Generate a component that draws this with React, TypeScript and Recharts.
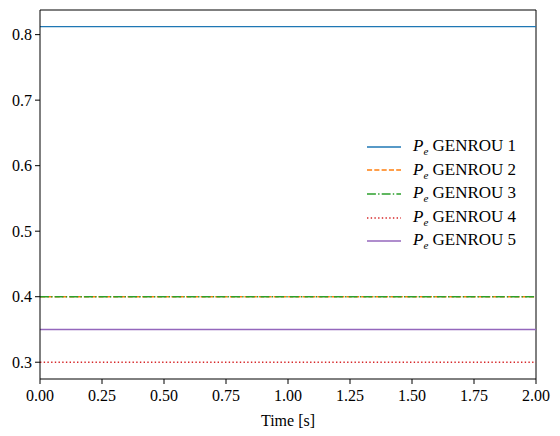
import React from 'react';
import { LineChart, Line, XAxis, YAxis, Legend, ReferenceLine } from 'recharts';

const timeS = [0, 2];
const peGenrou1 = [0.8122, 0.8122];
const peGenrou2 = [0.4, 0.4];
const peGenrou3 = [0.4, 0.4];
const peGenrou4 = [0.3, 0.3];
const peGenrou5 = [0.35, 0.35];
const xTicks = [0, 0.25, 0.5, 0.75, 1.0, 1.25, 1.5, 1.75, 2.0];
const yTicks = [0.3, 0.4, 0.5, 0.6, 0.7, 0.8];
const seriesNames = ['GENROU 1', 'GENROU 2', 'GENROU 3', 'GENROU 4', 'GENROU 5'];
const seriesKeys = ['g1', 'g2', 'g3', 'g4', 'g5'];
const colors = ['#1f77b4', '#ff7f0e', '#2ca02c', '#d62728', '#9467bd'];
const dashes = [undefined, '5.1 2.2', '8.9 2.2 1.4 2.2', '1.4 2.3', undefined];

const data = timeS.map((t, i) => ({
  t,
  g1: peGenrou1[i],
  g2: peGenrou2[i],
  g3: peGenrou3[i],
  g4: peGenrou4[i],
  g5: peGenrou5[i],
}));

const FONT = 'Liberation Serif';
const Y_MIN = 0.2744;
const Y_MAX = 0.8376;

const LegendContent = () => (
  <div style={{ fontFamily: FONT, fontSize: 17, color: '#000' }}>
    {seriesNames.map((n, i) => (
      <div key={n} style={{ height: 23.6, display: 'flex', alignItems: 'center', whiteSpace: 'nowrap' }}>
        <svg width={46} height={10} style={{ display: 'block' }}>
          <line x1={0} x2={34} y1={5} y2={5} stroke={colors[i]} strokeWidth={1.4} strokeDasharray={dashes[i]} />
        </svg>
        <span>
          <i>P</i>
          <sub style={{ fontSize: 11, fontStyle: 'italic' }}>e</sub> {n}
        </span>
      </div>
    ))}
  </div>
);

export default function App() {
  const tickStyle = { fill: '#000', fontSize: 16, fontFamily: FONT };
  return (
    <div style={{ position: 'absolute', left: 0, top: 0, width: 560, height: 436, background: '#fff' }}>
      <LineChart width={560} height={436} data={data} margin={{ top: 10, right: 24, left: 0, bottom: 0 }}>
        <XAxis
          dataKey="t"
          type="number"
          domain={[0, 2]}
          ticks={xTicks}
          allowDataOverflow
          tickFormatter={(v: number) => v.toFixed(2)}
          stroke="#000"
          tick={tickStyle}
          tickSize={5}
          tickMargin={6}
          height={57}
          label={{ value: 'Time [s]', position: 'insideBottom', offset: 10, fill: '#000', fontSize: 16, fontFamily: FONT }}
        />
        <YAxis
          type="number"
          domain={[Y_MIN, Y_MAX]}
          ticks={yTicks}
          allowDataOverflow
          tickFormatter={(v: number) => v.toFixed(1)}
          stroke="#000"
          tick={tickStyle}
          tickSize={5}
          tickMargin={3}
          width={40}
        />
        <ReferenceLine y={Y_MAX} stroke="#000" strokeWidth={1} ifOverflow="extendDomain" />
        <ReferenceLine x={2} stroke="#000" strokeWidth={1} ifOverflow="extendDomain" />
        <Legend
          layout="horizontal"
          verticalAlign="middle"
          align="center"
          content={() => <LegendContent />}
          wrapperStyle={{ position: 'absolute', left: 367, top: 135, width: 'auto', height: 'auto', bottom: 'auto' }}
        />
        {seriesKeys.map((k, i) => (
          <Line
            key={k}
            dataKey={k}
            name={seriesNames[i]}
            stroke={colors[i]}
            strokeWidth={1.4}
            strokeDasharray={dashes[i]}
            dot={false}
            activeDot={false}
            isAnimationActive={false}
          />
        ))}
      </LineChart>
    </div>
  );
}
